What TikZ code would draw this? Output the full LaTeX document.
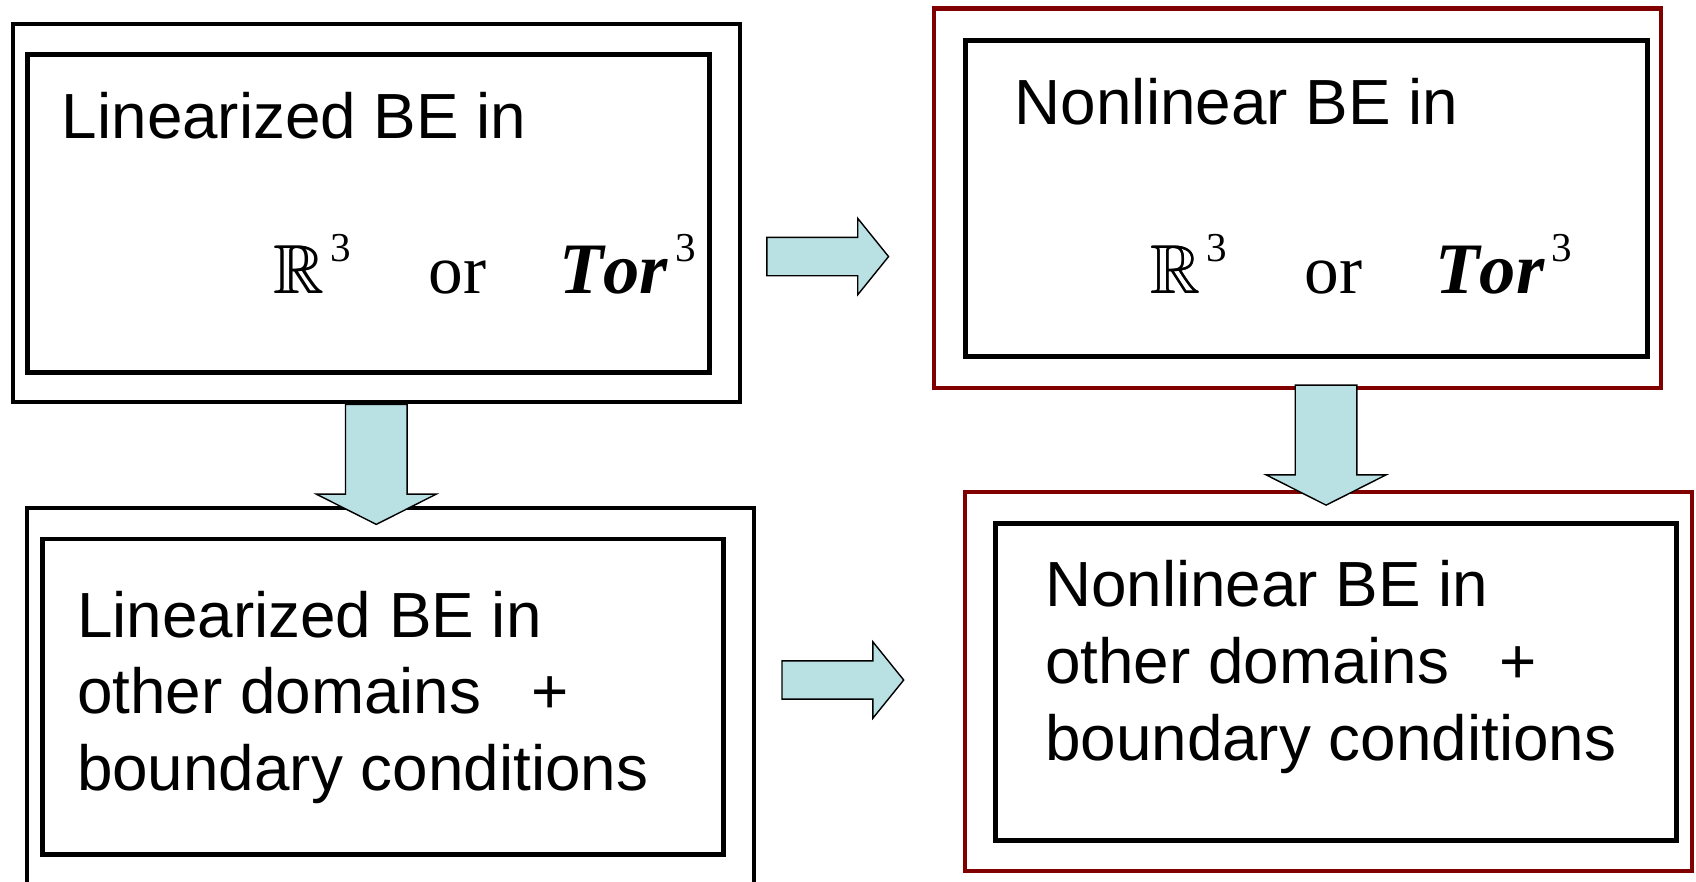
\documentclass[tikz,border=0pt]{standalone}
\usepackage{fontspec}
\usepackage{amssymb}
\setmainfont{Liberation Sans}
\newfontfamily\timesfont[Kerning=Off]{Liberation Serif}
\definecolor{framered}{RGB}{128,0,0}
\definecolor{arrowfill}{RGB}{185,224,227}

% a slightly heavier blackboard R, drawn as two overlaid copies
\newcommand\heavyR{\rlap{$\mathbb{R}$}\hspace{0.9pt}$\mathbb{R}$}

% the "R^3 or Tor^3" line, laid out with fixed offsets
\newcommand\domainline{%
  {\timesfont\fontsize{64}{70}\selectfont
   \rlap{\heavyR}\hspace{52pt}%
   \rlap{\raisebox{29pt}{\fontsize{38}{40}\selectfont 3}}\hspace{91pt}%
   \rlap{or}\hspace{121pt}%
   \rlap{\fontsize{67}{70}\selectfont\bfseries\itshape Tor}\hspace{107pt}%
   \raisebox{29pt}{\fontsize{38}{40}\selectfont 3}}}

\newcommand\domainslines[1]{%
  \begin{tabular}[t]{@{}l@{}}#1 BE in\\other domains\hspace{46pt}+\\boundary conditions\end{tabular}}

\begin{document}
\begin{tikzpicture}[x=1pt,y=-1pt,
  outerblack/.style={draw=black, line width=3.8pt, anchor=north west, inner sep=0pt},
  outerred/.style={draw=framered, line width=3.8pt, anchor=north west, inner sep=0pt},
  innerbox/.style={draw=black, line width=4.6pt, anchor=north west, inner sep=0pt},
  bodytext/.style={anchor=base west, inner sep=0pt,
    font=\fontsize{59}{71}\selectfont},
  blockarrow/.style={draw=black, line width=1.3pt, fill=arrowfill, line join=miter},
  pics/downarrow/.style={code={
    \path[blockarrow] (-28.5,0) -- (28.5,0) -- (28.5,83) -- (55.5,83)
      -- (0,111) -- (-55.5,83) -- (-28.5,83) -- cycle;}},
  pics/rightarrow/.style={code={
    \path[blockarrow] (0,-17.7) -- (84,-17.7) -- (84,-35.3) -- (112.5,0)
      -- (84,35.3) -- (84,17.7) -- (0,17.7) -- cycle;}}]

\clip (0,0) rectangle (1568,815);
\fill[white] (0,0) rectangle (1568,815);

% top left: linearized equation on the whole space or the torus
\node[outerblack, minimum width=672pt, minimum height=350pt] (linout) at (10,20) {};
\node[innerbox, minimum width=631pt, minimum height=294pt] (linin) at (23,48) {};
\node[bodytext] (lintext) at (57,128) {Linearized BE in};
\node[anchor=base west, inner sep=0pt] (lindom) at (253,271) {\domainline};

% top right: nonlinear equation on the whole space or the torus
\node[outerred, minimum width=672pt, minimum height=351pt] (nonout) at (862,6) {};
\node[innerbox, minimum width=631pt, minimum height=292pt] (nonin) at (890,35) {};
\node[bodytext] (nontext) at (938,115) {Nonlinear BE in};
\node[anchor=base west, inner sep=0pt] (nondom) at (1063,271) {\domainline};

% bottom left: linearized equation in other domains
\node[outerblack, minimum width=672pt, minimum height=400pt] (linbout) at (23,468) {};
\node[innerbox, minimum width=630pt, minimum height=292pt] (linbin) at (37,496) {};
\node[bodytext] (linbtext) at (71,589) {\domainslines{Linearized}};

% bottom right: nonlinear equation in other domains
\node[outerred, minimum width=672pt, minimum height=350pt] (nonbout) at (890,453) {};
\node[innerbox, minimum width=630pt, minimum height=293pt] (nonbin) at (918,482) {};
\node[bodytext] (nonbtext) at (966,561) {\domainslines{Nonlinear}};

% block arrows between the stages
\coordinate (toparrow) at (709,237.2);
\coordinate (botarrow) at (723,628.7);
\coordinate (rightdown) at (1226,356);
\pic at (linout.south) {downarrow};
\pic at (rightdown) {downarrow};
\pic at (toparrow) {rightarrow};
\pic at (botarrow) {rightarrow};

\end{tikzpicture}
\end{document}
